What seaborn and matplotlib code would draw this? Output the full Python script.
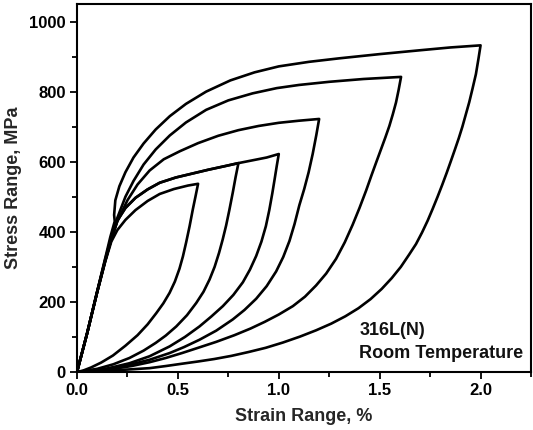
import matplotlib
matplotlib.use("Agg")
import matplotlib.pyplot as plt
import pandas as pd
import seaborn as sns
from matplotlib.ticker import MultipleLocator

# ---- digitised hysteresis loops (strain range %, stress range MPa) ----
# loop with 0.6 % strain range
up06_x = [0, 0.05, 0.10, 0.14, 0.17, 0.20, 0.24, 0.29, 0.35, 0.41, 0.48, 0.55, 0.60]
up06_y = [0, 110, 228, 315, 372, 405, 434, 462, 488, 508, 522, 532, 537]
lo06_x = [0.60, 0.587, 0.574, 0.558, 0.541, 0.525, 0.508, 0.485, 0.459, 0.428, 0.393, 0.35, 0.30, 0.24, 0.178, 0.12, 0.07, 0.03, 0]
lo06_y = [537, 500, 464, 416, 370, 330, 295, 258, 226, 196, 168, 136, 105, 75, 47, 27, 13, 4, 0]

# loop with 0.8 % strain range
up08_x = [0, 0.05, 0.10, 0.14, 0.17, 0.20, 0.24, 0.29, 0.35, 0.41, 0.49, 0.57, 0.65, 0.73, 0.80]
up08_y = [0, 110, 228, 318, 378, 432, 468, 497, 521, 540, 555, 566, 577, 587, 596]
lo08_x = [0.80, 0.786, 0.772, 0.755, 0.739, 0.722, 0.704, 0.682, 0.657, 0.627, 0.591, 0.545, 0.492, 0.44, 0.39, 0.33, 0.26, 0.18, 0.10, 0]
lo08_y = [596, 556, 512, 462, 418, 378, 340, 300, 264, 229, 197, 162, 130, 104, 83, 61, 40, 22, 9, 0]

# loop with 1.0 % strain range
up10_x = [0, 0.05, 0.10, 0.14, 0.17, 0.20, 0.24, 0.29, 0.35, 0.41, 0.49, 0.57, 0.65, 0.73, 0.80, 0.87, 0.94, 1.00]
up10_y = [0, 110, 228, 318, 378, 432, 468, 497, 521, 540, 555, 566, 577, 587, 596, 604, 612, 622]
lo10_x = [1.00, 0.99, 0.98, 0.968, 0.953, 0.936, 0.914, 0.888, 0.857, 0.822, 0.775, 0.723, 0.665, 0.607, 0.535, 0.459, 0.36, 0.26, 0.15, 0]
lo10_y = [622, 588, 552, 510, 462, 416, 372, 331, 292, 256, 220, 188, 158, 130, 100, 73, 45, 25, 10, 0]

# loop with 1.2 % strain range
up12_x = [0, 0.05, 0.10, 0.14, 0.17, 0.20, 0.25, 0.30, 0.36, 0.43, 0.51, 0.60, 0.70, 0.80, 0.90, 1.00, 1.10, 1.20]
up12_y = [0, 110, 228, 318, 380, 430, 490, 535, 575, 607, 630, 653, 674, 690, 702, 711, 717, 722]
lo12_x = [1.20, 1.186, 1.168, 1.148, 1.126, 1.102, 1.078, 1.053, 1.022, 0.987, 0.94, 0.888, 0.83, 0.772, 0.69, 0.607, 0.53, 0.459, 0.36, 0.25, 0.14, 0]
lo12_y = [722, 676, 622, 570, 522, 476, 422, 374, 328, 287, 245, 209, 177, 150, 118, 92, 71, 54, 35, 19, 8, 0]

# loop with 1.6 % strain range
up16_x = [0, 0.05, 0.10, 0.14, 0.17, 0.20, 0.24, 0.28, 0.33, 0.39, 0.46, 0.54, 0.64, 0.75, 0.87, 0.99, 1.10, 1.25, 1.42, 1.606]
up16_y = [0, 110, 230, 322, 385, 440, 500, 545, 592, 635, 675, 712, 748, 775, 795, 810, 819, 828, 836, 842]
lo16_x = [1.606, 1.594, 1.581, 1.565, 1.548, 1.528, 1.507, 1.484, 1.46, 1.433, 1.40, 1.366, 1.327, 1.284, 1.235, 1.185,
          1.13, 1.07, 1.0, 0.93, 0.86, 0.78, 0.69, 0.60, 0.52, 0.44, 0.36, 0.27, 0.18, 0.09, 0]
lo16_y = [842, 805, 769, 735, 702, 669, 636, 600, 562, 518, 468, 420, 370, 323, 281, 247,
          215, 188, 164, 143, 124, 105, 86, 69, 54, 40, 28, 17, 9, 3, 0]

# loop with 2.0 % strain range
up20_x = [0, 0.05, 0.10, 0.14, 0.165, 0.187, 0.184, 0.19, 0.21, 0.24, 0.28, 0.33, 0.39, 0.46, 0.54, 0.64, 0.76, 0.88,
          1.00, 1.15, 1.30, 1.50, 1.70, 1.85, 2.00]
up20_y = [0, 110, 230, 325, 385, 430, 448, 490, 530, 570, 612, 652, 692, 730, 765, 800, 832, 855,
          872, 885, 895, 907, 918, 926, 932]
lo20_x = [2.00, 1.99, 1.977, 1.96, 1.944, 1.927, 1.91, 1.892, 1.873, 1.853, 1.832, 1.81, 1.787, 1.763, 1.738, 1.71, 1.68,
          1.646, 1.605, 1.56, 1.51, 1.455, 1.395, 1.33, 1.26, 1.185, 1.105, 1.02, 0.935, 0.85, 0.765, 0.68, 0.60, 0.525,
          0.44, 0.36, 0.25, 0.12, 0]
lo20_y = [932, 895, 850, 808, 770, 735, 700, 667, 635, 602, 568, 534, 500, 466, 432, 398, 365,
          335, 300, 268, 237, 208, 182, 159, 138, 119, 101, 84, 69, 57, 46, 37, 30, 24,
          17, 11, 7, 3, 0]

loops = [
    ("0.6", up06_x, up06_y, lo06_x, lo06_y),
    ("0.8", up08_x, up08_y, lo08_x, lo08_y),
    ("1.0", up10_x, up10_y, lo10_x, lo10_y),
    ("1.2", up12_x, up12_y, lo12_x, lo12_y),
    ("1.6", up16_x, up16_y, lo16_x, lo16_y),
    ("2.0", up20_x, up20_y, lo20_x, lo20_y),
]

label_material = "316L(N)"
label_condition = "Room Temperature"
x_label = "Strain Range, %"
y_label = "Stress Range, MPa"

frames = []
for name, ux, uy, lx, ly in loops:
    xs = list(ux) + list(lx[1:])
    ys = list(uy) + list(ly[1:])
    frames.append(pd.DataFrame({"strain": xs, "stress": ys, "loop": name}))
df = pd.concat(frames, ignore_index=True)

sns.set_theme(style="ticks")
plt.rcParams["font.family"] = ["Liberation Sans", "DejaVu Sans"]
plt.rcParams["font.weight"] = "bold"

fig = plt.figure(figsize=(5.33, 4.30), dpi=100)
ax = fig.add_axes([77 / 533, 1 - 372 / 430, (531 - 77) / 533, (372 - 4) / 430])

sns.lineplot(data=df, x="strain", y="stress", units="loop", estimator=None, sort=False,
             color="black", linewidth=1.9, legend=False, ax=ax)

ax.set_xlim(0, 2.25)
ax.set_ylim(0, 1050)
ax.xaxis.set_major_locator(MultipleLocator(0.5))
ax.xaxis.set_minor_locator(MultipleLocator(0.25))
ax.yaxis.set_major_locator(MultipleLocator(200))
ax.yaxis.set_minor_locator(MultipleLocator(100))
ax.tick_params(which="both", direction="out", width=1.3, colors="black", top=False, right=False)
ax.tick_params(which="major", length=5, labelsize=12, pad=3)
ax.tick_params(which="minor", length=3.5)
for lbl in ax.get_xticklabels() + ax.get_yticklabels():
    lbl.set_fontweight("bold")
for sp in ax.spines.values():
    sp.set_visible(True)
    sp.set_linewidth(1.5)
    sp.set_color("black")

ax.set_xlabel(x_label, fontsize=13, fontweight="bold", labelpad=7)
ax.set_ylabel(y_label, fontsize=13, fontweight="bold", labelpad=5)

ax.text(1.40, 118, label_material, fontsize=13, fontweight="bold", va="center", ha="left", color="#111111")
ax.text(1.40, 53, label_condition, fontsize=13, fontweight="bold", va="center", ha="left", color="#111111")

fig.savefig("out.png", dpi=100)
